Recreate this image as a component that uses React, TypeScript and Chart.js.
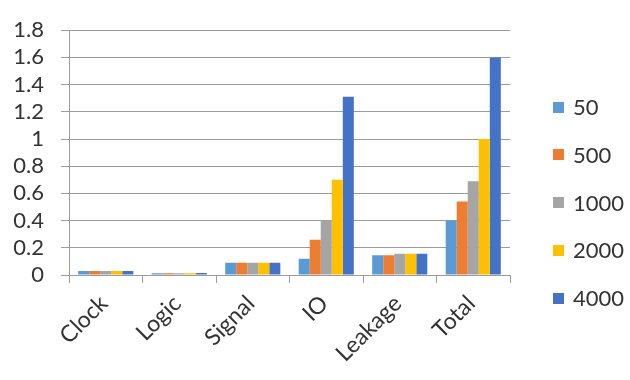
import React, { useEffect, useRef } from "react";
import { Chart, registerables } from "chart.js";

Chart.register(...registerables);

// Power breakdown per component for each design size
const categories = ["Clock", "Logic", "Signal", "IO", "Leakage", "Total"];
const seriesLabels = ["50", "500", "1000", "2000", "4000"];

const series50 = [0.03, 0.012, 0.09, 0.12, 0.145, 0.4];
const series500 = [0.03, 0.012, 0.09, 0.26, 0.145, 0.54];
const series1000 = [0.03, 0.012, 0.09, 0.4, 0.157, 0.69];
const series2000 = [0.03, 0.012, 0.09, 0.7, 0.157, 1.0];
const series4000 = [0.03, 0.015, 0.09, 1.31, 0.157, 1.6];

const seriesColors = ["#5B9BD5", "#ED7D31", "#A5A5A5", "#FFC000", "#4472C4"];

const yMax = 1.8;
const yStep = 0.2;

const FONT = "Lato, 'Open Sans', 'Liberation Sans', sans-serif";
const TEXT_COLOR = "#333333";
const GRID_COLOR = "#9c9c9c";

export default function App() {
  const canvasRef = useRef<HTMLCanvasElement | null>(null);

  useEffect(() => {
    const canvas = canvasRef.current;
    if (!canvas) return;
    const values = [series50, series500, series1000, series2000, series4000];
    const chart = new Chart(canvas, {
      type: "bar",
      data: {
        labels: categories,
        datasets: seriesLabels.map((label, i) => ({
          label,
          data: values[i],
          backgroundColor: seriesColors[i],
          borderWidth: 0,
          barPercentage: 1,
          categoryPercentage: 0.75,
        })),
      },
      options: {
        responsive: false,
        animation: false,
        devicePixelRatio: 1,
        layout: { padding: { top: 21, right: 120, left: 0, bottom: 0 } },
        plugins: {
          legend: { display: false },
          tooltip: { enabled: false },
        },
        scales: {
          x: {
            offset: true,
            grid: {
              offset: true,
              drawOnChartArea: false,
              drawTicks: true,
              tickLength: 8,
              color: GRID_COLOR,
              lineWidth: 1,
            },
            border: { display: true, color: GRID_COLOR, width: 1 },
            ticks: {
              minRotation: 45,
              maxRotation: 45,
              autoSkip: false,
              padding: 7,
              labelOffset: -2,
              color: TEXT_COLOR,
              font: { family: FONT, size: 23 },
            },
            afterFit: (scale: any) => {
              scale.height = 105;
            },
          },
          y: {
            min: 0,
            max: yMax,
            grid: {
              color: GRID_COLOR,
              lineWidth: 1,
              drawTicks: true,
              tickLength: 8,
            },
            border: { display: true, color: GRID_COLOR, width: 1 },
            ticks: {
              stepSize: yStep,
              autoSkip: false,
              padding: 17,
              color: TEXT_COLOR,
              font: { family: FONT, size: 22 },
              callback: (v: any) => String(Number(Number(v).toFixed(1))),
            },
            afterFit: (scale: any) => {
              scale.width = 69;
            },
          },
        },
      },
    });
    return () => chart.destroy();
  }, []);

  return (
    <div
      style={{
        position: "absolute",
        left: 0,
        top: 0,
        width: 630,
        height: 380,
        background: "#ffffff",
        overflow: "hidden",
      }}
    >
      <canvas ref={canvasRef} width={630} height={380} />
      {seriesLabels.map((label, i) => (
        <div
          key={label}
          style={{
            position: "absolute",
            left: 553,
            top: 107 + i * 47.8 - 12,
            height: 24,
            display: "flex",
            alignItems: "center",
            fontFamily: FONT,
            fontSize: 22,
            color: TEXT_COLOR,
            lineHeight: "24px",
          }}
        >
          <span
            style={{
              display: "inline-block",
              width: 11,
              height: 11,
              background: seriesColors[i],
              marginRight: 9,
            }}
          />
          {label}
        </div>
      ))}
    </div>
  );
}
